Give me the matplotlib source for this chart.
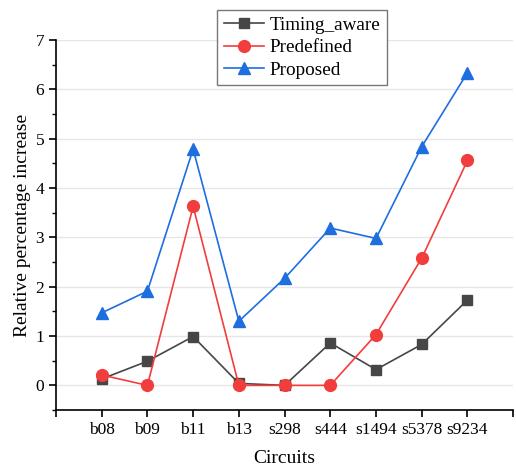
import numpy as np
import matplotlib.pyplot as plt
from matplotlib.ticker import MultipleLocator

circuits = ["b08", "b09", "b11", "b13", "s298", "s444", "s1494", "s5378", "s9234"]
timing_aware = [0.13, 0.49, 0.99, 0.04, 0.0, 0.86, 0.32, 0.83, 1.73]
predefined = [0.21, 0.0, 3.63, 0.0, 0.0, 0.0, 1.03, 2.58, 4.56]
proposed = [1.47, 1.91, 4.79, 1.30, 2.17, 3.19, 2.98, 4.84, 6.34]

plt.rcParams["font.family"] = ["Liberation Serif", "DejaVu Serif"]

fig = plt.figure(figsize=(5.16, 4.67), dpi=100)
ax = fig.add_axes([0.1085, 0.122, 0.886, 0.792])

x = np.arange(1, len(circuits) + 1)
ax.plot(x, timing_aware, color="#464646", marker="s", markersize=7, linewidth=1.2,
        label="Timing_aware", zorder=3)
ax.plot(x, predefined, color="#f23d3d", marker="o", markersize=8.5, linewidth=1.2,
        label="Predefined", zorder=4)
ax.plot(x, proposed, color="#1f6ee0", marker="^", markersize=8.5, linewidth=1.2,
        label="Proposed", zorder=2)

ax.set_xlim(0, len(circuits) + 1)
ax.set_ylim(-0.5, 7)
ax.set_xticks(np.arange(0, len(circuits) + 2))
ax.set_xticklabels([""] + circuits + [""])
ax.yaxis.set_major_locator(MultipleLocator(1))
ax.yaxis.set_minor_locator(MultipleLocator(0.5))
ax.set_yticks(np.arange(0, 8))
ax.grid(axis="y", color="#e6e6e6", linewidth=1)
ax.set_axisbelow(True)

for s in ["top", "right"]:
    ax.spines[s].set_visible(False)
ax.spines["left"].set_bounds(-0.5, 7)
ax.spines["left"].set_linewidth(1.2)
ax.spines["bottom"].set_linewidth(1.2)
ax.tick_params(axis="both", which="major", direction="out", length=5, width=1.2,
               labelsize=12.5)
ax.tick_params(axis="y", which="minor", direction="out", length=3, width=1.0)

ax.set_xlabel("Circuits", fontsize=14, labelpad=9)
ax.set_ylabel("Relative percentage increase", fontsize=14, labelpad=3.5)

leg = ax.legend(loc="upper center", bbox_to_anchor=(0.538, 1.081), fontsize=13.8,
                frameon=True, fancybox=False, edgecolor="#777777", framealpha=1,
                handlelength=2.1, borderpad=0.33, labelspacing=0.26,
                handletextpad=0.3, borderaxespad=0)
leg.get_frame().set_linewidth(1.0)

fig.savefig("out.png", dpi=100)
